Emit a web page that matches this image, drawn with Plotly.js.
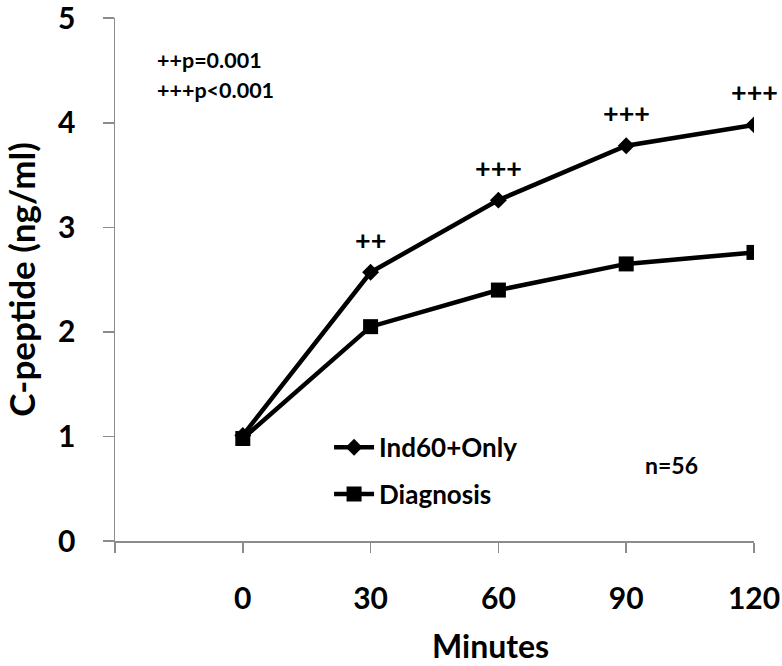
<!DOCTYPE html>
<html>
<head>
<meta charset="utf-8">
<script src="https://cdn.plot.ly/plotly-3.0.1.min.js"></script>
<style>
  html, body { margin: 0; padding: 0; background: #fff; }
  #chart { width: 782px; height: 666px; }
</style>
</head>
<body>
<div id="chart"></div>
<script>
const minutes = [0, 30, 60, 90, 120];
const ind60Only = [1.01, 2.57, 3.26, 3.78, 3.98];
const diagnosis = [0.98, 2.05, 2.40, 2.65, 2.76];
const sigMarks = ["", "++", "+++", "+++", "+++"];
const yTicks = [0, 1, 2, 3, 4, 5];
const xTicks = [-30, 0, 30, 60, 90, 120];
const xTickText = ["", "0", "30", "60", "90", "120"];

const font = "Lato, 'Open Sans', sans-serif";
const axisGrey = "#8c8c8c";

const data = [
  {
    type: "scatter",
    mode: "lines+markers",
    x: minutes,
    y: ind60Only,
    name: "Ind60+Only",
    legendgroup: "a",
    line: { color: "black", width: 4.5 },
    marker: { color: "black", symbol: "diamond", size: 13 },
  },
  {
    type: "scatter",
    mode: "lines+markers",
    x: minutes,
    y: diagnosis,
    name: "Diagnosis",
    legendgroup: "b",
    line: { color: "black", width: 4.5 },
    marker: { color: "black", symbol: "square", size: 15 },
  },
];

// significance marks above the Ind60+Only points
const annotations = minutes
  .map((m, i) => ({
    x: m,
    y: ind60Only[i],
    text: "<b>" + sigMarks[i] + "</b>",
    showarrow: false,
    yshift: 33,
    font: { family: font, size: 27, color: "black" },
  }))
  .filter((a, i) => sigMarks[i] !== "");

annotations.push(
  {
    xref: "paper", yref: "paper", x: 0.062, y: 0.92,
    xanchor: "left", yanchor: "middle",
    text: "<b>++p=0.001</b>", showarrow: false,
    font: { family: font, size: 21.5, color: "black" },
  },
  {
    xref: "paper", yref: "paper", x: 0.062, y: 0.862,
    xanchor: "left", yanchor: "middle",
    text: "<b>+++p<0.001</b>", showarrow: false,
    font: { family: font, size: 21.5, color: "black" },
  },
  {
    xref: "paper", yref: "paper", x: 0.871, y: 0.145,
    xanchor: "center", yanchor: "middle",
    text: "<b>n=56</b>", showarrow: false,
    font: { family: font, size: 23, color: "black" },
  },
  {
    xref: "paper", yref: "paper", x: 0.588, y: -0.2,
    xanchor: "center", yanchor: "middle",
    text: "<b>Minutes</b>", showarrow: false,
    font: { family: font, size: 32, color: "black" },
  }
);

const layout = {
  width: 782,
  height: 666,
  margin: { l: 115, r: 27.5, t: 18, b: 125 },
  paper_bgcolor: "white",
  plot_bgcolor: "white",
  showlegend: true,
  legend: {
    x: 0.335, y: 0.224, xanchor: "left", yanchor: "top",
    traceorder: "grouped",
    tracegroupgap: 10,
    bgcolor: "rgba(0,0,0,0)",
    font: { family: font, size: 26, color: "black", weight: "bold" },
    itemwidth: 40,
  },
  xaxis: {
    range: [-30, 120],
    tickvals: xTicks,
    ticktext: xTickText,
    showgrid: false,
    zeroline: false,
    showline: true,
    linecolor: axisGrey,
    linewidth: 1.5,
    ticks: "outside",
    ticklen: 10,
    tickwidth: 1.5,
    tickcolor: axisGrey,
    ticklabelstandoff: 20,
    tickfont: { family: font, size: 30, color: "black", weight: "bold" },
  },
  yaxis: {
    range: [0, 5.002],
    tickvals: yTicks,
    showgrid: false,
    zeroline: false,
    showline: true,
    linecolor: axisGrey,
    linewidth: 1.5,
    ticks: "outside",
    ticklen: 11,
    tickwidth: 1.5,
    tickcolor: axisGrey,
    ticklabelstandoff: 21,
    ticklabeloverflow: "allow",
    tickfont: { family: font, size: 30, color: "black", weight: "bold" },
    title: {
      text: "<b>C-peptide (ng/ml)</b>",
      font: { family: font, size: 35, color: "black" },
      standoff: 14,
    },
  },
  annotations: annotations,
};

Plotly.newPlot("chart", data, layout, { displayModeBar: false, staticPlot: true });
</script>
</body>
</html>
